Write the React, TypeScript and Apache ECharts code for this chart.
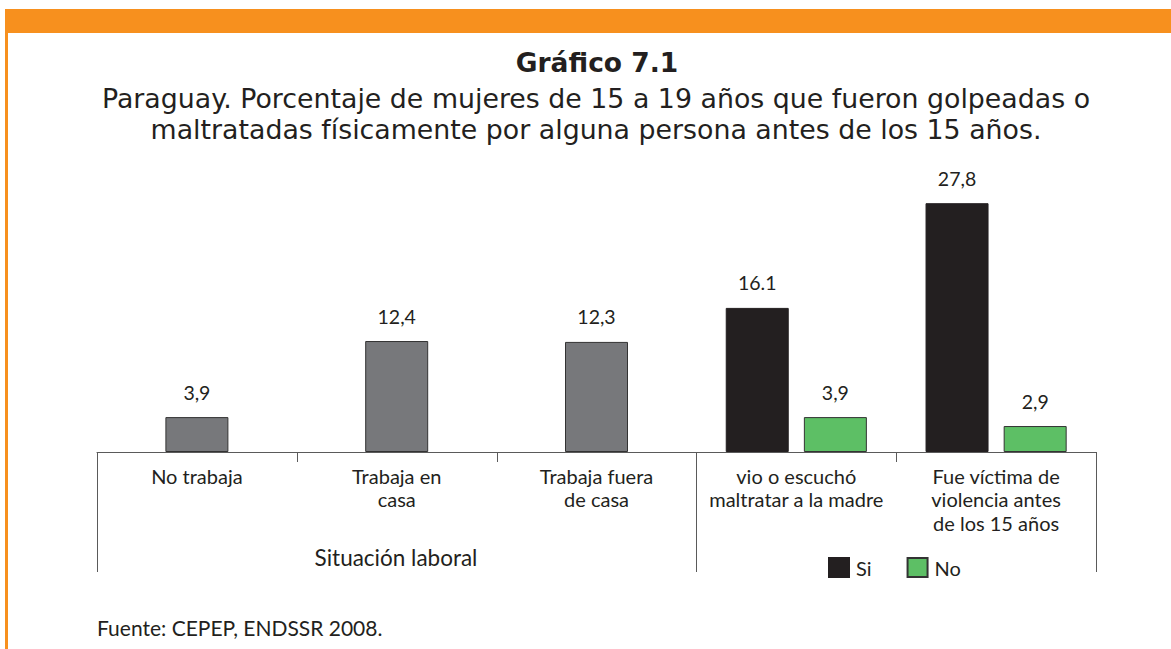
import React, { useEffect, useRef } from "react";
import * as echarts from "echarts";

const categories = [
  "No trabaja",
  "Trabaja en\ncasa",
  "Trabaja fuera\nde casa",
  "vio o escuchó\nmaltratar a la madre",
  "Fue víctima de\nviolencia antes\nde los 15 años",
];
const grayValues = [3.9, 12.4, 12.3, null, null];
const grayLabels = ["3,9", "12,4", "12,3", "", ""];
const siValues = [null, null, null, 16.1, 27.8];
const siLabels = ["", "", "", "16.1", "27,8"];
const noValues = [null, null, null, 3.9, 2.9];
const noLabels = ["", "", "", "3,9", "2,9"];

const titleText = "Gráfico 7.1";
const subtitleLines = [
  "Paraguay. Porcentaje de mujeres de 15 a 19 años que fueron golpeadas o",
  "maltratadas físicamente por alguna persona antes de los 15 años.",
];
const groupLabel = "Situación laboral";
const sourceText = "Fuente: CEPEP, ENDSSR 2008.";

const TEXT = "#231f20";
const FONT = "Lato";

export default function App() {
  const ref = useRef<HTMLDivElement>(null);
  useEffect(() => {
    const chart = echarts.init(ref.current!, undefined, { renderer: "svg" });
    const gridLeft = 97;
    const gridWidth = 999;
    const gridBottomY = 452;
    const band = gridWidth / categories.length;
    const lineColor = "#5a5a5a";
    const sepLines: any[] = [];
    for (let i = 0; i <= categories.length; i++) {
      const x = Math.round(gridLeft + i * band) + 0.5;
      const long = i === 0 || i === 3 || i === categories.length;
      sepLines.push({
        type: "line",
        shape: { x1: x, y1: gridBottomY, x2: x, y2: long ? 572 : 462 },
        style: { stroke: lineColor, lineWidth: 1 },
      });
    }
    const labelOpt = (labels: string[]) => ({
      show: true,
      position: "top",
      distance: 15,
      fontSize: 19.5,
      fontFamily: FONT,
      color: TEXT,
      formatter: (p: any) => labels[p.dataIndex],
    });
    chart.setOption({
      animation: false,
      grid: { left: gridLeft, width: gridWidth, top: gridBottomY - 30 * 8.95, height: 30 * 8.95 },
      xAxis: [
        {
          type: "category",
          data: categories,
          axisLine: { lineStyle: { color: lineColor, width: 1 } },
          axisTick: { show: false },
          axisLabel: {
            interval: 0,
            margin: 12,
            fontSize: 20,
            lineHeight: 23.5,
            fontFamily: FONT,
            color: TEXT,
            verticalAlign: "top",
          },
        },
        { type: "category", data: categories, show: false },
      ],
      yAxis: { type: "value", min: 0, max: 30, show: false },
      legend: {
        data: ["Si", "No"],
        left: 828,
        top: 557,
        itemWidth: 20,
        itemHeight: 19,
        itemGap: 35,
        icon: "rect",
        textStyle: { fontSize: 20, fontFamily: FONT, color: TEXT, padding: [0, 0, 0, 2] },
        padding: 0,
      },
      series: [
        {
          name: "gray",
          type: "bar",
          xAxisIndex: 1,
          data: grayValues,
          barWidth: 63,
          itemStyle: { color: "#77787b", borderColor: "#333", borderWidth: 1 },
          label: labelOpt(grayLabels),
        },
        {
          name: "Si",
          type: "bar",
          data: siValues,
          barWidth: 63,
          barGap: "24%",
          itemStyle: { color: "#231f20", borderColor: "#231f20", borderWidth: 1 },
          label: labelOpt(siLabels),
        },
        {
          name: "No",
          type: "bar",
          data: noValues,
          barWidth: 63,
          barGap: "24%",
          itemStyle: { color: "#5dbf65", borderColor: "#333", borderWidth: 1 },
          label: labelOpt(noLabels),
        },
      ],
      graphic: [
        { type: "rect", shape: { x: 5, y: 9, width: 1166, height: 24 }, style: { fill: "#f7901e" } },
        { type: "rect", shape: { x: 5, y: 9, width: 3, height: 640 }, style: { fill: "#f7901e" } },
        {
          type: "text",
          x: 597,
          y: 62,
          style: {
            text: titleText,
            textAlign: "center",
            textVerticalAlign: "middle",
            fontFamily: "DejaVu Sans",
            fontWeight: "bold",
            fontSize: 26.5,
            fill: TEXT,
          },
        },
        ...subtitleLines.map((t, i) => ({
          type: "text",
          x: 596,
          y: 98 + i * 31,
          style: {
            text: t,
            textAlign: "center",
            textVerticalAlign: "middle",
            fontFamily: "DejaVu Sans",
            fontSize: 26.8,
            fill: TEXT,
          },
        })),
        ...sepLines,
        {
          type: "text",
          x: 396,
          y: 557,
          style: {
            text: groupLabel,
            textAlign: "center",
            textVerticalAlign: "middle",
            fontFamily: FONT,
            fontSize: 22.5,
            fill: TEXT,
          },
        },
        {
          type: "text",
          x: 97,
          y: 627,
          style: {
            text: sourceText,
            textAlign: "left",
            textVerticalAlign: "middle",
            fontFamily: FONT,
            fontSize: 21,
            fill: TEXT,
          },
        },
      ],
    });
    return () => chart.dispose();
  }, []);
  return (
    <div
      ref={ref}
      style={{ position: "fixed", left: 0, top: 0, width: 1171, height: 649, background: "#fff" }}
    />
  );
}
